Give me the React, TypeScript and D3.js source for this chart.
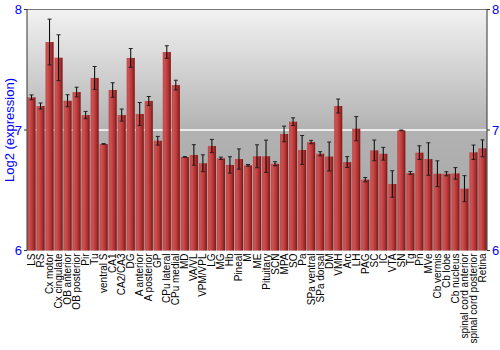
import React from "react";
import * as d3 from "d3";

const categories = ["LS","RS","Cx motor","Cx cingulate","OB anterior","OB posterior","Pir","Tu","ventral S","CA1","CA2/CA3","DG","A anterior","A posterior","GP","CPu lateral","CPu medial","MD","VA/VL","VPM/VPL","LG","MG","Hb","Pineal","M","ME","Pituitary","SCN","MPA","SO","Pa","SPa ventral","SPa dorsal","DM","VMH","Arc","LH","PAG","SC","IC","VTA","SN","Tg","Pn","MVe","Cb vermis","Cb lobe","Cb nucleus","spinal cord anterior","spinal cord posterior","Retina"];
const values = [7.271,7.199,7.73,7.60,7.243,7.315,7.124,7.432,6.884,7.332,7.124,7.598,7.133,7.241,6.911,7.647,7.373,6.776,6.793,6.724,6.867,6.765,6.710,6.759,6.707,6.782,6.782,6.720,6.967,7.069,6.834,6.900,6.803,6.78,7.199,6.734,7.011,6.588,6.831,6.803,6.552,6.997,6.643,6.812,6.759,6.637,6.637,6.64,6.513,6.815,6.848];
const errors = [0.02,0.025,0.19,0.19,0.05,0.04,0.03,0.095,0.003,0.06,0.05,0.078,0.095,0.037,0.036,0.052,0.04,0.003,0.085,0.07,0.055,0.01,0.068,0.084,0.007,0.095,0.134,0.017,0.065,0.032,0.12,0.014,0.017,0.12,0.058,0.045,0.1,0.018,0.086,0.053,0.11,0.003,0.012,0.057,0.135,0.107,0.017,0.048,0.108,0.06,0.07];
const yTicks = [6, 7, 8];

const W = 500, H = 350;
const L = 27, R = 487, T = 9.5, B = 250.5;

export default function App() {
  const x = d3.scaleBand<string>().domain(categories).range([L, R]).paddingInner(0.1).paddingOuter(0.05);
  const y = d3.scaleLinear().domain([6, 8]).range([B, T]);
  const font = "Liberation Sans, Arial, sans-serif";
  return (
    <svg width={W} height={H} style={{ position: "absolute", left: 0, top: 0 }} fontFamily={font}>
      <defs>
        <linearGradient id="bg" x1="0" y1="0" x2="0" y2="1">
          <stop offset="0" stopColor="#f2f2f2" />
          <stop offset="0.5" stopColor="#b2b2b2" />
          <stop offset="1" stopColor="#a4a4a4" />
        </linearGradient>
        <linearGradient id="bar" x1="0" y1="0" x2="1" y2="0">
          <stop offset="0" stopColor="#c04848" />
          <stop offset="0.25" stopColor="#cc5252" />
          <stop offset="0.7" stopColor="#b03030" />
          <stop offset="1" stopColor="#7a1414" />
        </linearGradient>
      </defs>
      <rect x={L} y={T} width={R - L} height={B - T} fill="url(#bg)" />
      <line x1={L} x2={R} y1={y(7)} y2={y(7)} stroke="#ffffff" strokeWidth={1.5} />
      <line x1={L} x2={R} y1={T} y2={T} stroke="#777" strokeWidth={1} />
      {categories.map((c, i) => {
        const bx = x(c)!;
        const bw = x.bandwidth();
        const cx = bx + bw / 2;
        return (
          <g key={c}>
            <rect x={bx} y={y(values[i])} width={bw} height={B - y(values[i])} fill="url(#bar)" />
            <line x1={cx} x2={cx} y1={y(values[i] + errors[i])} y2={y(values[i] - errors[i])} stroke="#000" strokeWidth={1} />
            <line x1={cx - 2} x2={cx + 2} y1={y(values[i] + errors[i])} y2={y(values[i] + errors[i])} stroke="#222" strokeWidth={1} />
            <line x1={cx - 2} x2={cx + 2} y1={y(values[i] - errors[i])} y2={y(values[i] - errors[i])} stroke="#222" strokeWidth={1} />
            <text transform={`translate(${cx + 3.5},${B + 3}) rotate(-90)`} textAnchor="end" fontSize={10} fill="#000">{c}</text>
          </g>
        );
      })}
      <line x1={L} x2={L} y1={T} y2={B} stroke="#333" />
      <line x1={R} x2={R} y1={T} y2={B} stroke="#333" />
      {yTicks.map((t) => (
        <g key={t}>
          <line x1={L - 3} x2={L} y1={y(t)} y2={y(t)} stroke="#333" />
          <line x1={R} x2={R + 3} y1={y(t)} y2={y(t)} stroke="#333" />
          <text x={L - 5} y={y(t) + 4.5} textAnchor="end" fontSize={13} fill="#0000ff">{t}</text>
          <text x={R + 5} y={y(t) + 4.5} textAnchor="start" fontSize={13} fill="#0000ff">{t}</text>
        </g>
      ))}
      <text transform={`translate(14,${(T + B) / 2}) rotate(-90)`} textAnchor="middle" fontSize={13} fill="#0000ff">Log2 (expression)</text>
    </svg>
  );
}
